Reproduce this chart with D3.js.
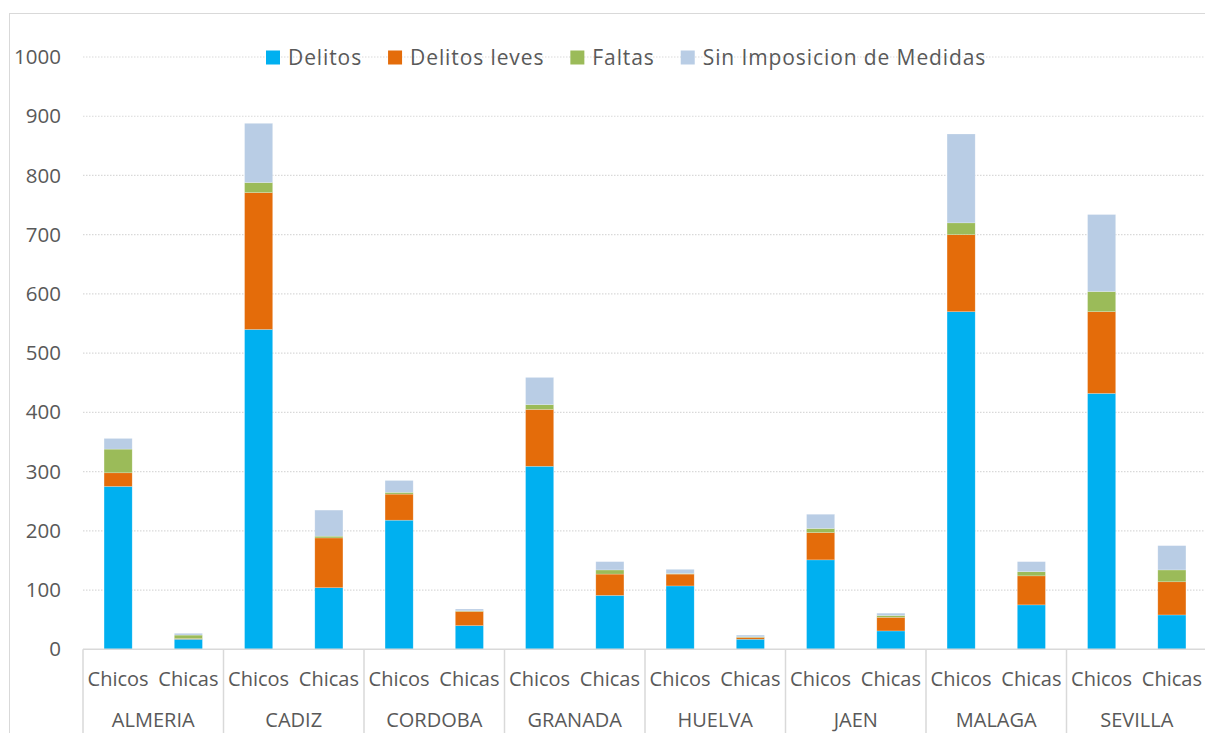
<!DOCTYPE html>
<html>
<head>
<meta charset="utf-8">
<script src="https://cdn.jsdelivr.net/npm/d3@7"></script>
<style>
  html, body { margin: 0; padding: 0; background: #fff; overflow: hidden; }
  svg { display: block; }
  text { font-family: "Open Sans", "Noto Sans", sans-serif; fill: #595959; }
</style>
</head>
<body>
<svg id="chart" width="1205" height="733"></svg>
<script>
// Provinces and sex groups along the x axis
const regions = ["ALMERIA", "CADIZ", "CORDOBA", "GRANADA", "HUELVA", "JAEN", "MALAGA", "SEVILLA"];
const sexes = ["Chicos", "Chicas"];

// Stacked series, one value per (province, sex) in region order: Chicos, Chicas
const delitos       = [275, 17, 540, 104, 218, 40, 309, 91, 107, 17, 151, 31, 570, 75, 432, 58];
const delitosLeves  = [23, 1, 231, 84, 44, 24, 96, 36, 20, 3, 46, 23, 130, 49, 138, 56];
const faltas        = [40, 6, 17, 3, 3, 1, 8, 7, 1, 1, 7, 3, 20, 7, 34, 20];
const sinImposicion = [18, 3, 100, 44, 20, 3, 46, 14, 7, 3, 24, 4, 150, 17, 130, 41];

const seriesNames = ["Delitos", "Delitos leves", "Faltas", "Sin Imposicion de Medidas"];
const seriesValues = [delitos, delitosLeves, faltas, sinImposicion];
const colors = ["#00B0F0", "#E46C0A", "#9BBB59", "#B9CDE5"];

const yTicks = [0, 100, 200, 300, 400, 500, 600, 700, 800, 900, 1000];

// Build rows for the stack layout
const rows = [];
regions.forEach((r, i) => {
  sexes.forEach((s, j) => {
    const idx = i * 2 + j;
    const row = { region: r, sex: s };
    seriesNames.forEach((name, k) => { row[name] = seriesValues[k][idx]; });
    rows.push(row);
  });
});

const svg = d3.select("#chart");

// Chart area frame
svg.append("rect")
  .attr("x", 9.5).attr("y", 13.5)
  .attr("width", 1300).attr("height", 800)
  .attr("fill", "none").attr("stroke", "#d9d9d9").attr("stroke-width", 1);

const plotLeft = 83, groupW = 140.5;
const plotRight = plotLeft + regions.length * groupW;

const x0 = d3.scaleBand().domain(regions).range([plotLeft, plotRight]).padding(0);
const x1 = d3.scaleBand().domain(sexes).range([0, x0.bandwidth()])
  .paddingInner(0.6).paddingOuter(0.3);
const y = d3.scaleLinear().domain([0, 1000]).range([649.3, 57]);

// Dotted horizontal gridlines
svg.append("g")
  .selectAll("line")
  .data(yTicks.filter(d => d > 0))
  .join("line")
  .attr("x1", plotLeft).attr("x2", 1205)
  .attr("y1", d => y(d)).attr("y2", d => y(d))
  .attr("stroke", "#d9d9d9").attr("stroke-width", 1.2)
  .attr("stroke-dasharray", "1.5,1.5");

// Y axis labels
const yAxis = d3.axisLeft(y).tickValues(yTicks).tickFormat(d3.format("d"))
  .tickSize(0).tickPadding(0);
const yg = svg.append("g").attr("transform", "translate(61,0)").call(yAxis);
yg.select(".domain").remove();
yg.selectAll("text")
  .attr("font-size", 20.5)
  .attr("font-family", "Open Sans")
  .attr("fill", "#595959");

// Stacked bars
const stack = d3.stack().keys(seriesNames);
const layers = stack(rows);

svg.append("g")
  .selectAll("g")
  .data(layers)
  .join("g")
  .attr("fill", (d, i) => colors[i])
  .selectAll("rect")
  .data(d => d)
  .join("rect")
  .attr("x", d => x0(d.data.region) + x1(d.data.sex))
  .attr("width", x1.bandwidth())
  .attr("y", d => y(d[1]))
  .attr("height", d => Math.max(0, y(d[0]) - y(d[1])))
  .attr("stroke", "#ffffff").attr("stroke-opacity", 0.35).attr("stroke-width", 0.6);

// Horizontal axis line and group dividers
svg.append("line")
  .attr("x1", plotLeft).attr("x2", 1205)
  .attr("y1", y(0)).attr("y2", y(0))
  .attr("stroke", "#d9d9d9").attr("stroke-width", 1.5);

svg.append("g")
  .selectAll("line")
  .data(regions)
  .join("line")
  .attr("x1", d => x0(d)).attr("x2", d => x0(d))
  .attr("y1", y(0)).attr("y2", 740)
  .attr("stroke", "#d9d9d9").attr("stroke-width", 1.5);

// Sex labels
const lab = svg.append("g");
rows.forEach(r => {
  lab.append("text")
    .attr("x", x0(r.region) + x1(r.sex) + x1.bandwidth() / 2)
    .attr("y", 686)
    .attr("text-anchor", "middle")
    .attr("font-size", 20)
    .text(r.sex);
});

// Province labels
svg.append("g")
  .selectAll("text")
  .data(regions)
  .join("text")
  .attr("x", d => x0(d) + x0.bandwidth() / 2)
  .attr("y", 727)
  .attr("text-anchor", "middle")
  .attr("font-size", 20)
  .text(d => d);

// Legend
const legend = svg.append("g");
let lx = 266;
seriesNames.forEach((name, i) => {
  legend.append("rect")
    .attr("x", lx).attr("y", 50.5)
    .attr("width", 14).attr("height", 14)
    .attr("fill", colors[i]);
  const t = legend.append("text")
    .attr("x", lx + 22).attr("y", 65)
    .attr("font-size", 21)
    .attr("letter-spacing", 0.9)
    .text(name);
  lx += 22 + t.node().getComputedTextLength() + 26;
});
</script>
</body>
</html>
